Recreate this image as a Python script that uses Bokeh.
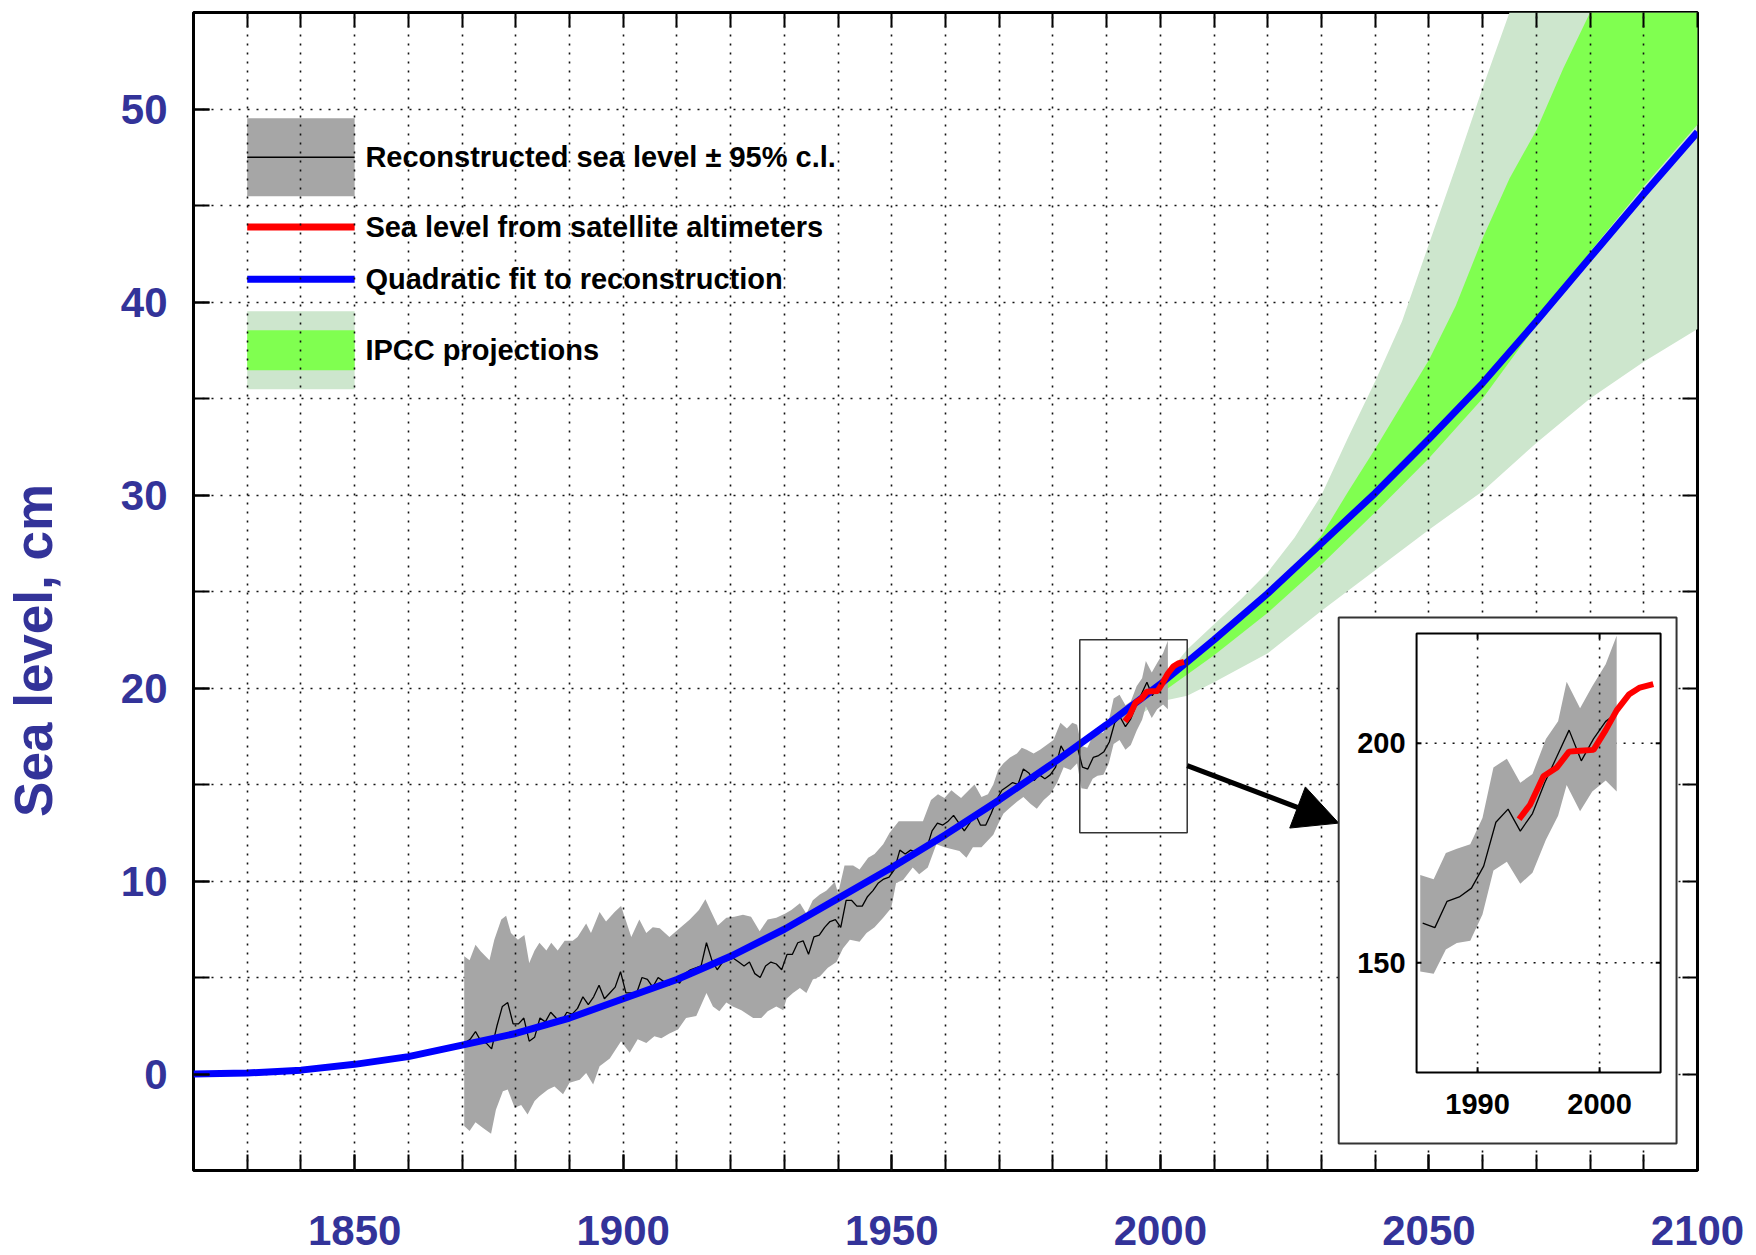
from bokeh.core.properties import value
from bokeh.embed import file_html
from bokeh.models import (Arrow, FixedTicker, LinearAxis, LinearScale, NormalHead,
                          Range1d)
from bokeh.plotting import figure
from bokeh.resources import INLINE

# ---------------------------------------------------------------- data ----
# Quadratic fit to the reconstruction, cm
fit_year = list(range(1820, 2101, 10))
fit_cm = [0.0, 0.05, 0.2, 0.5, 0.9, 1.5, 2.1, 2.9, 3.9, 4.9,
          6.1, 7.5, 9.1, 10.7, 12.4, 14.2, 16.1, 18.1, 20.2, 22.5,
          24.9, 27.5, 30.1, 32.9, 35.8, 39.0, 42.3, 45.6, 48.8]

# Reconstructed global mean sea level, annual means, cm
recon_year = list(range(1870, 2002))
recon_cm = [
    1.6, 1.8, 2.2, 1.7, 1.6, 1.3, 2.5, 3.5, 3.7, 2.6,        # 1870s
    2.6, 2.9, 1.7, 1.9, 2.9, 2.7, 3.2, 2.9, 2.7, 3.2,        # 1880s
    3.1, 3.4, 4.0, 3.6, 4.0, 4.6, 3.9, 4.2, 4.5, 5.3,        # 1890s
    4.2, 4.2, 4.2, 5.0, 4.9, 4.5, 5.0, 4.8, 4.6, 4.9,        # 1900s
    4.7, 5.2, 5.4, 5.5, 5.6, 6.8, 5.9, 5.4, 5.8, 5.9,        # 1910s
    6.0, 5.8, 5.6, 5.8, 5.2, 5.0, 5.6, 5.8, 5.7, 5.4,        # 1920s
    6.2, 6.2, 6.8, 6.9, 6.2, 7.1, 7.2, 7.6, 7.9, 8.0,        # 1930s
    7.6, 9.0, 9.0, 8.7, 8.7, 9.2, 9.5, 9.9, 10.1, 10.2,      # 1940s
    10.6, 11.6, 11.4, 11.6, 11.5, 11.6, 11.7, 12.6, 13.0, 12.9,  # 1950s
    13.1, 13.4, 13.0, 12.6, 13.0, 13.5, 12.9, 12.9, 13.5, 14.2,  # 1960s
    14.7, 14.9, 15.1, 15.0, 15.8, 15.6, 15.2, 15.5, 15.3, 15.5,  # 1970s
    15.9, 17.0, 16.5, 16.9, 17.0, 15.9, 15.8, 16.4, 16.5, 16.7,  # 1980s
    17.2, 18.2, 18.5, 18.0, 18.4, 19.1, 19.7, 20.3, 19.6, 20.1,  # 1990s
    20.5, 20.7,                                                  # 2000s
]

# 95% confidence limits of the reconstruction, (year, cm)
ci_upper = [
    (1870.4, 6.1), (1871.4, 5.9), (1872.5, 6.7), (1873.5, 6.35), (1875.1, 5.9),
    (1876.0, 6.95), (1877.3, 8.0), (1878.2, 8.2), (1879.1, 7.3), (1880.4, 6.95),
    (1881.6, 7.2), (1882.5, 5.75), (1883.5, 6.4), (1884.4, 6.8), (1885.7, 6.4),
    (1886.6, 6.8), (1887.8, 6.4), (1889.1, 6.9), (1890.6, 6.9), (1891.5, 7.1),
    (1893.1, 7.8), (1894.0, 7.3), (1895.6, 8.4), (1896.8, 7.9), (1898.4, 8.4),
    (1899.6, 8.7), (1901.5, 7.1), (1903.0, 8.0), (1904.3, 7.3), (1905.5, 7.6),
    (1906.8, 7.55), (1908.6, 7.1), (1910.5, 7.55), (1912.4, 8.0), (1914.1, 8.5),
    (1915.3, 9.05), (1916.4, 8.4), (1917.6, 7.7), (1919.2, 8.1), (1920.7, 8.15),
    (1922.3, 8.25), (1923.8, 8.15), (1925.4, 7.4), (1926.9, 8.0), (1928.5, 8.1),
    (1930.1, 8.3), (1931.3, 8.5), (1932.9, 8.85), (1934.1, 8.3), (1935.3, 9.0),
    (1936.6, 9.3), (1937.8, 9.5), (1939.4, 9.95), (1940.0, 9.35), (1941.2, 10.8),
    (1942.8, 10.8), (1944.0, 10.6), (1945.6, 11.2), (1946.8, 11.4), (1948.4, 11.9),
    (1949.6, 12.5), (1951.3, 13.1), (1953.3, 13.1), (1955.8, 13.1), (1957.3, 14.2),
    (1958.6, 14.5), (1959.8, 14.3), (1961.1, 14.7), (1962.0, 14.5), (1962.9, 14.3),
    (1965.4, 15.0), (1966.7, 14.35), (1967.9, 14.5), (1968.9, 15.0), (1969.8, 15.75),
    (1970.8, 16.1), (1972.0, 16.4), (1973.3, 16.6), (1974.2, 16.9), (1975.1, 16.8),
    (1976.4, 16.6), (1977.6, 16.8), (1980.1, 17.3), (1981.4, 18.2), (1982.6, 17.9),
    (1983.6, 18.2), (1984.5, 18.1), (1985.3, 17.0), (1986.4, 16.9), (1987.4, 17.5),
    (1988.3, 17.6), (1989.4, 17.7), (1990.4, 18.3), (1991.3, 19.45), (1992.4, 19.65),
    (1993.5, 19.1), (1994.5, 19.3), (1995.6, 20.1), (1996.6, 20.5), (1997.3, 21.4),
    (1998.4, 20.8), (1999.4, 21.3), (2000.5, 21.8), (2001.4, 22.45),
]
ci_lower = [
    (1870.4, -2.7), (1871.4, -2.95), (1872.5, -2.5), (1873.9, -2.8), (1875.4, -3.1),
    (1876.3, -1.85), (1877.6, -0.9), (1878.5, -0.8), (1879.8, -1.75), (1881.0, -1.6),
    (1882.2, -2.1), (1883.5, -1.4), (1884.4, -1.15), (1886.0, -0.8), (1887.2, -0.65),
    (1888.8, -1.05), (1890.0, -0.45), (1891.9, -0.3), (1893.1, 0.05), (1894.4, -0.55),
    (1895.6, 0.4), (1897.5, 0.8), (1899.6, 1.7), (1901.2, 1.1), (1902.7, 1.8),
    (1904.3, 1.6), (1905.8, 1.95), (1907.1, 1.85), (1908.6, 2.1), (1910.2, 2.3),
    (1911.7, 2.9), (1913.6, 3.0), (1915.5, 4.2), (1916.7, 3.5), (1917.9, 3.25),
    (1919.2, 3.7), (1920.4, 3.5), (1922.0, 3.3), (1924.2, 2.9), (1925.7, 2.9),
    (1926.9, 3.25), (1928.5, 3.5), (1929.8, 3.3), (1930.4, 3.9), (1931.6, 4.2),
    (1932.9, 4.45), (1934.1, 4.2), (1935.3, 4.9), (1936.6, 5.05), (1938.1, 5.5),
    (1939.7, 5.8), (1940.9, 6.5), (1942.2, 6.95), (1944.0, 6.85), (1945.3, 7.3),
    (1946.8, 7.6), (1948.4, 8.1), (1949.9, 8.6), (1950.8, 9.9), (1952.1, 10.05),
    (1953.9, 10.7), (1955.1, 10.35), (1956.7, 10.7), (1958.3, 11.9), (1959.8, 11.75),
    (1962.6, 11.55), (1963.9, 11.2), (1965.1, 11.75), (1966.7, 11.75), (1968.9, 12.4),
    (1969.8, 12.95), (1970.8, 13.5), (1972.0, 13.8), (1973.3, 14.1), (1974.5, 14.35),
    (1975.8, 14.0), (1977.0, 13.75), (1978.3, 14.2), (1979.5, 14.5), (1980.8, 15.1),
    (1982.0, 15.9), (1983.3, 15.75), (1984.5, 16.1), (1985.3, 14.8), (1986.4, 14.75),
    (1987.4, 15.3), (1988.3, 15.45), (1989.4, 15.5), (1990.4, 16.1), (1991.3, 17.1),
    (1992.4, 17.3), (1993.5, 16.8), (1994.5, 17.05), (1995.6, 17.8), (1996.6, 18.35),
    (1997.3, 19.05), (1998.4, 18.45), (1999.4, 18.9), (2000.5, 19.15), (2001.4, 18.9),
]

# Satellite altimetry, (year, mm)
sat_year = [1993.4, 1994.3, 1995.4, 1996.5, 1997.5, 1998.4,
            1999.5, 2000.5, 2001.4, 2002.4, 2003.3, 2004.4]
sat_mm = [182.7, 186.0, 192.5, 194.5, 198.1, 198.3,
          198.5, 203.0, 207.5, 211.1, 212.7, 213.5]

# IPCC projection envelopes, (year, cm); 55 marks the top of the chart
ipcc_outer_upper = [(1990, 17.9), (2000, 20.3), (2005, 22.0), (2010, 23.3), (2015, 24.6),
                    (2020, 26.0), (2025, 27.8), (2030, 30.0), (2035, 33.0), (2040, 35.9),
                    (2045, 39.0), (2050, 43.0), (2055, 47.0), (2060, 51.1), (2065, 55.0),
                    (2100, 55.0)]
ipcc_outer_lower = [(1990, 17.5), (2000, 19.3), (2005, 19.6), (2010, 20.3), (2020, 21.8),
                    (2030, 24.0), (2040, 26.1), (2050, 28.2), (2060, 30.2), (2070, 32.7),
                    (2080, 35.0), (2090, 36.9), (2100, 38.6)]
ipcc_inner_upper = [(1990, 17.8), (2000, 20.1), (2010, 22.5), (2020, 25.0), (2025, 26.3),
                    (2030, 27.9), (2035, 30.2), (2040, 32.4), (2045, 34.7), (2050, 37.0),
                    (2055, 39.8), (2060, 43.3), (2065, 46.4), (2070, 48.9), (2075, 52.1),
                    (2080, 55.0), (2100, 55.0)]
ipcc_inner_lower = [(1990, 17.6), (2000, 19.7), (2010, 21.7), (2020, 23.9), (2030, 26.4),
                    (2040, 29.1), (2050, 31.9), (2060, 35.0), (2070, 38.8), (2080, 42.6),
                    (2090, 46.0), (2100, 49.2)]

legend_labels = ["Reconstructed sea level \u00b1 95% c.l.",
                 "Sea level from satellite altimeters",
                 "Quadratic fit to reconstruction",
                 "IPCC projections"]
y_title = "Sea level, cm"

x_tick_years = list(range(1820, 2101, 10))
x_label_years = [1850, 1900, 1950, 2000, 2050, 2100]
y_tick_cm = list(range(-5, 56, 5))
y_label_cm = [0, 10, 20, 30, 40, 50]

# close-up panel: years and millimetres
inset_years = (1985, 2005)
inset_mm = (125, 225)
inset_x_ticks = [1990, 2000]
inset_y_ticks = [150, 200]

# --------------------------------------------------------------- style ----
FONT = "Liberation Sans"
AXIS_BLUE = "#333399"
GRAY = "#a6a6a6"
PALE_GREEN = "#cde6cd"
BRIGHT_GREEN = "#80ff50"
DOTS = "2 7"

p = figure(width=1756, height=1255,
           x_range=Range1d(1820, 2100), y_range=Range1d(-5, 55),
           output_backend="svg", toolbar_location=None,
           min_border_left=193, min_border_right=59,
           min_border_top=12, min_border_bottom=85,
           background_fill_color="white", border_fill_color="white",
           outline_line_color="black", outline_line_width=3)


def tick_style(ax, length):
    ax.axis_line_color = None
    ax.major_tick_in = length
    ax.major_tick_out = 0
    ax.major_tick_line_width = 2
    ax.minor_tick_in = length
    ax.minor_tick_out = 0
    ax.minor_tick_line_width = 2
    ax.minor_tick_line_color = "black"


def label_style(ax, size):
    ax.major_label_text_font = FONT
    ax.major_label_text_font_style = "bold"
    ax.major_label_text_font_size = size
    ax.major_label_text_color = AXIS_BLUE


# bottom: labels every 50 years, ticks every 10 years
p.xaxis.ticker = FixedTicker(ticks=x_label_years, minor_ticks=x_tick_years)
tick_style(p.xaxis[0], 16)
label_style(p.xaxis[0], "42px")
p.xaxis.major_label_standoff = 45

# left: labels every 10 cm, ticks every 5 cm; the title sits a little below centre
p.yaxis.ticker = FixedTicker(ticks=y_label_cm, minor_ticks=y_tick_cm)
tick_style(p.yaxis[0], 16)
label_style(p.yaxis[0], "42px")
p.yaxis.major_label_standoff = 26
p.yaxis.axis_label = y_title + "\u00a0" * 8
p.yaxis.axis_label_standoff = 55
p.yaxis.axis_label_text_font = FONT
p.yaxis.axis_label_text_font_style = "bold"
p.yaxis.axis_label_text_font_size = "53px"
p.yaxis.axis_label_text_color = AXIS_BLUE

top_axis = LinearAxis(ticker=FixedTicker(ticks=[], minor_ticks=x_tick_years),
                      major_label_standoff=0)
tick_style(top_axis, 15)
p.add_layout(top_axis, "above")
right_axis = LinearAxis(ticker=FixedTicker(ticks=[], minor_ticks=y_tick_cm),
                        major_label_standoff=0)
tick_style(right_axis, 15)
right_axis.level = "underlay"
p.add_layout(right_axis, "right")

p.xgrid.ticker = FixedTicker(ticks=x_tick_years)
p.ygrid.ticker = FixedTicker(ticks=y_tick_cm)
for g in (p.xgrid[0], p.ygrid[0]):
    g.grid_line_color = "#111111"
    g.grid_line_width = 1.6
    g.grid_line_dash = DOTS
p.xgrid.level = "guide"


def band(upper, lower, scale=1.0, start=None):
    up = [(t, v) for t, v in upper if start is None or t >= start]
    lo = [(t, v) for t, v in lower if start is None or t >= start]
    xs = [t for t, _ in up] + [t for t, _ in reversed(lo)]
    ys = [v * scale for _, v in up] + [v * scale for _, v in reversed(lo)]
    return xs, ys


# ---------------------------------------------------------- main chart ----
p.patch(*band(ipcc_outer_upper, ipcc_outer_lower), fill_color=PALE_GREEN, line_color=None)
p.patch(*band(ipcc_inner_upper, ipcc_inner_lower), fill_color=BRIGHT_GREEN, line_color=None)
p.patch(*band(ci_upper, ci_lower), fill_color=GRAY, line_color=None)

recon_mid = [y + 0.5 for y in recon_year]
p.line(recon_mid, recon_cm, line_color="black", line_width=1.3)
p.line(fit_year, fit_cm, line_color="#0000ff", line_width=7)
p.line(sat_year, [v / 10 for v in sat_mm], line_color="#ff0000", line_width=6)

# legend, drawn in the upper-left corner of the chart
leg_x0, leg_x1, leg_text_x = 1830, 1850, 1852
leg_y = [47.5, 43.88, 41.18, 37.5]
p.quad(left=leg_x0, right=leg_x1, bottom=leg_y[0] - 2.02, top=leg_y[0] + 2.02,
       fill_color=GRAY, line_color=None)
p.segment(x0=leg_x0, x1=leg_x1, y0=leg_y[0], y1=leg_y[0], line_color="black", line_width=1.5)
p.segment(x0=leg_x0, x1=leg_x1, y0=leg_y[1], y1=leg_y[1], line_color="#ff0000", line_width=7)
p.segment(x0=leg_x0, x1=leg_x1, y0=leg_y[2], y1=leg_y[2], line_color="#0000ff", line_width=7)
p.quad(left=leg_x0, right=leg_x1, bottom=leg_y[3] - 2.02, top=leg_y[3] + 2.02,
       fill_color=PALE_GREEN, line_color=None)
p.quad(left=leg_x0, right=leg_x1, bottom=leg_y[3] - 1.04, top=leg_y[3] + 1.04,
       fill_color=BRIGHT_GREEN, line_color=None)
p.text(x=[leg_text_x] * 4, y=leg_y, text=legend_labels,
       text_font=value(FONT), text_font_style="bold", text_font_size="29px",
       text_color="black", text_baseline="middle", text_align="left")

# frame marking the close-up period
p.quad(left=inset_years[0], right=inset_years[1],
       bottom=inset_mm[0] / 10, top=inset_mm[1] / 10,
       fill_color=None, line_color="#333333", line_width=1.5)

p.add_layout(Arrow(end=NormalHead(size=44, fill_color="black", line_color="black"),
                   x_start=inset_years[1], y_start=15.98, x_end=2033.2, y_end=13.0,
                   line_color="black", line_width=5))

# ------------------------------------------------------------ close-up ----
overlay = []
overlay.append(p.quad(left=2033.2, right=2096.1, bottom=-3.6, top=23.65,
                      fill_color="white", line_color="#333333", line_width=2))

inset = p.subplot(x_source=Range1d(*inset_years), y_source=Range1d(*inset_mm),
                  x_scale=LinearScale(), y_scale=LinearScale(),
                  x_target=Range1d(2047.7, 2093.13), y_target=Range1d(0.08, 22.82))

overlay.append(inset.segment(x0=[inset_years[0]] * 2, x1=[inset_years[1]] * 2,
                             y0=inset_y_ticks, y1=inset_y_ticks,
                             line_color="#111111", line_width=1.6, line_dash=DOTS))
overlay.append(inset.patch(*band(ci_upper, ci_lower, scale=10, start=inset_years[0]),
                           fill_color=GRAY, line_color=None))
overlay.append(inset.segment(x0=inset_x_ticks, x1=inset_x_ticks,
                             y0=[inset_mm[0]] * 2, y1=[inset_mm[1]] * 2,
                             line_color="#111111", line_width=1.6, line_dash=DOTS))
sel = [i for i, y in enumerate(recon_year) if y >= inset_years[0]]
overlay.append(inset.line([recon_mid[i] for i in sel], [recon_cm[i] * 10 for i in sel],
                          line_color="black", line_width=1.3))
overlay.append(inset.line(sat_year, sat_mm, line_color="#ff0000", line_width=6))
overlay.append(inset.quad(left=inset_years[0], right=inset_years[1],
                          bottom=inset_mm[0], top=inset_mm[1],
                          fill_color=None, line_color="black", line_width=2))
# inward ticks
overlay.append(inset.segment(x0=[inset_years[0]] * 2, x1=[inset_years[0] + 0.4] * 2,
                             y0=inset_y_ticks, y1=inset_y_ticks, line_color="black", line_width=2))
overlay.append(inset.segment(x0=[inset_years[1] - 0.4] * 2, x1=[inset_years[1]] * 2,
                             y0=inset_y_ticks, y1=inset_y_ticks, line_color="black", line_width=2))
overlay.append(inset.segment(x0=inset_x_ticks, x1=inset_x_ticks,
                             y0=[inset_mm[0]] * 2, y1=[inset_mm[0] + 1.2] * 2,
                             line_color="black", line_width=2))
overlay.append(inset.segment(x0=inset_x_ticks, x1=inset_x_ticks,
                             y0=[inset_mm[1] - 1.2] * 2, y1=[inset_mm[1]] * 2,
                             line_color="black", line_width=2))
overlay.append(inset.text(x=[inset_years[0]] * 2, y=inset_y_ticks,
                          text=[str(t) for t in inset_y_ticks], x_offset=-11,
                          text_font=value(FONT), text_font_style="bold", text_font_size="29px",
                          text_color="black", text_align="right", text_baseline="middle"))
overlay.append(inset.text(x=inset_x_ticks, y=[inset_mm[0]] * 2,
                          text=[str(t) for t in inset_x_ticks], y_offset=32,
                          text_font=value(FONT), text_font_style="bold", text_font_size="29px",
                          text_color="black", text_align="center", text_baseline="middle"))
for r in overlay:
    r.level = "overlay"

open("out.html", "w").write(file_html(p, INLINE))
